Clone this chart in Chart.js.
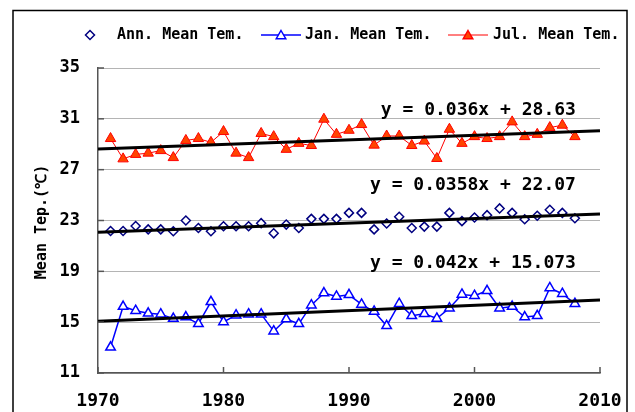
<!DOCTYPE html>
<html>
<head>
<meta charset="utf-8">
<script src="https://cdn.jsdelivr.net/npm/chart.js@4/dist/chart.umd.min.js"></script>
<style>
  html, body { margin: 0; padding: 0; background: #fff; }
  canvas { display: block; }
</style>
</head>
<body>
<canvas id="temp-chart" width="635" height="412"></canvas>
<script>
var years = [1971, 1972, 1973, 1974, 1975, 1976, 1977, 1978, 1979, 1980,
             1981, 1982, 1983, 1984, 1985, 1986, 1987, 1988, 1989, 1990,
             1991, 1992, 1993, 1994, 1995, 1996, 1997, 1998, 1999, 2000,
             2001, 2002, 2003, 2004, 2005, 2006, 2007, 2008];

var annMean = [22.17, 22.17, 22.57, 22.3, 22.3, 22.15, 23.0, 22.41, 22.15, 22.55,
               22.55, 22.55, 22.79, 21.99, 22.68, 22.41, 23.13, 23.13, 23.13, 23.6,
               23.6, 22.3, 22.76, 23.29, 22.41, 22.52, 22.52, 23.6, 22.95, 23.24,
               23.42, 23.95, 23.6, 23.1, 23.37, 23.85, 23.6, 23.18];

var janMean = [13.02, 16.23, 15.9, 15.7, 15.63, 15.28, 15.4, 14.87, 16.6, 15.02,
               15.55, 15.63, 15.63, 14.29, 15.24, 14.87, 16.34, 17.29, 17.02, 17.15,
               16.4, 15.84, 14.71, 16.45, 15.5, 15.66, 15.29, 16.1, 17.18, 17.08,
               17.47, 16.1, 16.23, 15.4, 15.5, 17.69, 17.24, 16.45];

var julMean = [29.45, 27.85, 28.2, 28.3, 28.5, 27.95, 29.3, 29.45, 29.15, 30.0,
               28.3, 27.95, 29.85, 29.6, 28.6, 29.07, 28.9, 30.97, 29.78, 30.1,
               30.55, 28.93, 29.65, 29.65, 28.9, 29.25, 27.88, 30.18, 29.07, 29.6,
               29.45, 29.6, 30.76, 29.6, 29.78, 30.31, 30.5, 29.6];

// trend lines y = a*x + b, x counted in years from 1970
var trendSlopes = [0.036, 0.0358, 0.042];
var trendIntercepts = [28.63, 22.07, 15.073];
var trendLabels = ['y = 0.036x + 28.63', 'y = 0.0358x + 22.07', 'y = 0.042x + 15.073'];
var trendLabelY = [31.64, 25.73, 19.63];

var legendLabels = ['Ann. Mean Tem.', 'Jan. Mean Tem.', 'Jul. Mean Tem.'];
var xRange = [1970, 2010];
var yRange = [11, 35];

var FONT = '"DejaVu Sans Mono", monospace';

function pairUp(xs, ys) {
    return xs.map(function (x, i) { return {x: x, y: ys[i]}; });
}

function trendPoints(k) {
    return xRange.map(function (x) {
        return {x: x, y: trendSlopes[k] * (x - 1970) + trendIntercepts[k]};
    });
}

function triangle(ctx, x, y, r, fill, stroke) {
    ctx.beginPath();
    ctx.moveTo(x, y - r);
    ctx.lineTo(x + r * 0.866, y + r / 2);
    ctx.lineTo(x - r * 0.866, y + r / 2);
    ctx.closePath();
    ctx.fillStyle = fill;
    ctx.fill();
    ctx.lineWidth = 1.5;
    ctx.strokeStyle = stroke;
    ctx.stroke();
}

var decor = {
    id: 'decor',
    beforeDraw: function (chart) {
        var ctx = chart.ctx;
        ctx.save();
        ctx.fillStyle = '#fff';
        ctx.fillRect(0, 0, chart.width, chart.height);
        ctx.strokeStyle = '#000';
        ctx.lineWidth = 1.5;
        ctx.strokeRect(13, 10.5, 614, 420);
        ctx.restore();
    },
    afterDraw: function (chart) {
        var ctx = chart.ctx;
        var xs = chart.scales.x, ys = chart.scales.y;
        var area = chart.chartArea;
        ctx.save();

        // inward tick marks
        ctx.strokeStyle = '#555';
        ctx.lineWidth = 1.5;
        ys.ticks.forEach(function (t) {
            var py = ys.getPixelForValue(t.value);
            ctx.beginPath(); ctx.moveTo(area.left, py); ctx.lineTo(area.left + 6, py); ctx.stroke();
        });
        xs.ticks.forEach(function (t) {
            var px = xs.getPixelForValue(t.value);
            ctx.beginPath(); ctx.moveTo(px, area.bottom); ctx.lineTo(px, area.bottom - 6); ctx.stroke();
        });

        // equations
        ctx.fillStyle = '#000';
        ctx.font = 'bold 18px ' + FONT;
        ctx.textAlign = 'right';
        ctx.textBaseline = 'middle';
        trendLabels.forEach(function (s, k) {
            ctx.fillText(s, xs.getPixelForValue(2008) + 1, ys.getPixelForValue(trendLabelY[k]));
        });

        // y title
        ctx.save();
        ctx.translate(42, 222);
        ctx.rotate(-Math.PI / 2);
        ctx.textAlign = 'center';
        ctx.font = 'bold 15px ' + FONT;
        ctx.fillText('Mean Tep.(\u2103)', 0, 0);
        ctx.restore();

        // legend
        var ly = 35;
        ctx.font = 'bold 15px ' + FONT;
        ctx.textAlign = 'left';
        ctx.beginPath();
        ctx.moveTo(90, ly - 4.5); ctx.lineTo(94.5, ly); ctx.lineTo(90, ly + 4.5); ctx.lineTo(85.5, ly);
        ctx.closePath();
        ctx.strokeStyle = '#000080'; ctx.lineWidth = 1.5; ctx.stroke();
        ctx.fillStyle = '#000';
        ctx.fillText(legendLabels[0], 117, ly);

        ctx.strokeStyle = '#0000ff'; ctx.lineWidth = 1.5;
        ctx.beginPath(); ctx.moveTo(261, ly); ctx.lineTo(301, ly); ctx.stroke();
        triangle(ctx, 281, ly + 1, 5.5, '#fff', '#0000ff');
        ctx.fillStyle = '#000';
        ctx.fillText(legendLabels[1], 305, ly);

        ctx.strokeStyle = '#ff0000'; ctx.lineWidth = 1;
        ctx.beginPath(); ctx.moveTo(448, ly); ctx.lineTo(488, ly); ctx.stroke();
        triangle(ctx, 468, ly + 1, 5.5, '#ff4400', '#ff0000');
        ctx.fillStyle = '#000';
        ctx.fillText(legendLabels[2], 493, ly);

        ctx.restore();
    }
};

var trendSets = [0, 1, 2].map(function (k) {
    return {
        data: trendPoints(k),
        showLine: true,
        borderColor: '#000',
        borderWidth: 3,
        pointRadius: 0
    };
});

var ctx = document.getElementById('temp-chart').getContext('2d');
var chart = new Chart(ctx, {
    type: 'scatter',
    data: {
        datasets: trendSets.concat([
            {
                label: legendLabels[0],
                data: pairUp(years, annMean),
                showLine: false,
                pointStyle: 'rectRot',
                pointRadius: 4.5,
                pointBorderWidth: 1.5,
                pointBorderColor: '#000080',
                pointBackgroundColor: '#fff'
            },
            {
                label: legendLabels[1],
                data: pairUp(years, janMean),
                showLine: true,
                borderColor: '#0000ff',
                borderWidth: 1.5,
                pointStyle: 'triangle',
                pointRadius: 5.5,
                pointBorderWidth: 1.5,
                pointBorderColor: '#0000ff',
                pointBackgroundColor: '#fff'
            },
            {
                label: legendLabels[2],
                data: pairUp(years, julMean),
                showLine: true,
                borderColor: '#ff0000',
                borderWidth: 1,
                pointStyle: 'triangle',
                pointRadius: 6,
                pointBorderWidth: 1,
                pointBorderColor: '#ff0000',
                pointBackgroundColor: '#ff4400'
            }
        ])
    },
    options: {
        responsive: false,
        animation: false,
        events: [],
        layout: { padding: { left: 0, right: 35, top: 68, bottom: 0 } },
        plugins: {
            legend: { display: false },
            tooltip: { enabled: false }
        },
        scales: {
            x: {
                type: 'linear',
                min: xRange[0],
                max: xRange[1],
                afterFit: function (s) { s.height = 39; },
                grid: { display: false },
                border: { display: true, color: '#555', width: 1.5 },
                ticks: {
                    stepSize: 10,
                    padding: 10,
                    color: '#000',
                    font: { family: FONT, size: 18, weight: 'bold' },
                    maxRotation: 0,
                    callback: function (v) { return String(v); }
                }
            },
            y: {
                min: yRange[0],
                max: yRange[1],
                afterFit: function (s) { s.width = 98; },
                grid: { color: '#b4b4b4', lineWidth: 1, drawTicks: false },
                border: { display: true, color: '#555', width: 1.5 },
                ticks: {
                    stepSize: 4,
                    padding: 18,
                    color: '#000',
                    font: { family: FONT, size: 17, weight: 'bold' },
                    callback: function (v) { return String(v); }
                }
            }
        }
    },
    plugins: [decor]
});
</script>
</body>
</html>
